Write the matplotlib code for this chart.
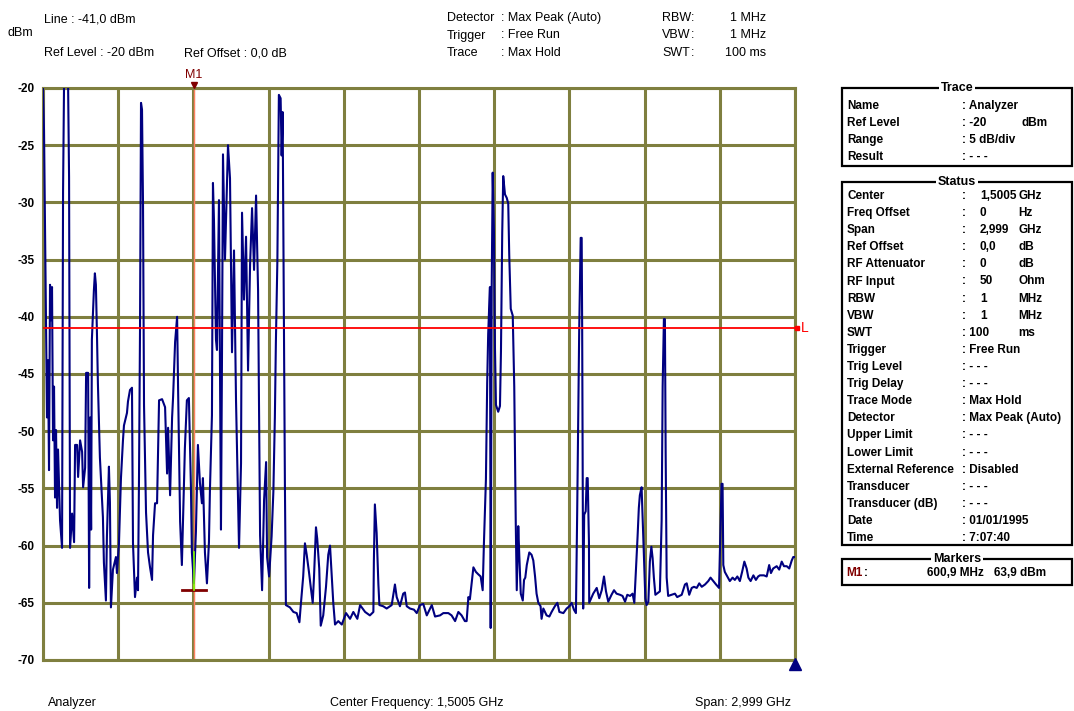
import numpy as np
import matplotlib.pyplot as plt
from matplotlib.patches import Rectangle

W, H = 1074, 711

# spectrum trace (MHz, dBm)
freq_mhz = [
    0, 4, 8, 12, 16, 20, 24, 28, 32, 36, 40, 44, 48, 52, 56, 60, 68, 76, 80, 84,
    92, 100, 104, 108, 116, 124, 128, 136, 140, 148, 156, 160, 168, 172, 180, 184, 188, 192, 195, 203,
    207, 211, 215, 219, 227, 239, 243, 251, 255, 263, 267, 271, 279, 291, 295, 303, 311, 319, 323, 335,
    339, 347, 355, 359, 367, 375, 379, 383, 387, 391, 395, 399, 403, 411, 419, 427, 435, 439, 447, 455,
    463, 475, 487, 495, 499, 507, 515, 519, 527, 535, 539, 547, 554, 566, 574, 582, 590, 594, 602, 610,
    618, 626, 634, 638, 646, 654, 662, 666, 674, 678, 682, 690, 694, 702, 710, 714, 718, 726, 738, 746,
    754, 762, 770, 782, 790, 794, 802, 810, 818, 826, 834, 842, 850, 858, 862, 866, 874, 882, 890, 894,
    902, 912, 919, 925, 929, 935, 941, 948, 952, 956, 959, 965, 969, 985, 999, 1012, 1023, 1028, 1038, 1045,
    1052, 1061, 1068, 1076, 1081, 1089, 1094, 1102, 1108, 1118, 1129, 1138, 1145, 1152, 1158, 1165, 1178, 1192, 1209, 1225,
    1238, 1254, 1265, 1285, 1304, 1318, 1320, 1324, 1331, 1338, 1342, 1357, 1371, 1391, 1404, 1411, 1424, 1437, 1444, 1451,
    1464, 1480, 1491, 1504, 1517, 1531, 1551, 1564, 1584, 1597, 1617, 1630, 1644, 1657, 1670, 1683, 1690, 1697, 1703, 1710,
    1717, 1727, 1736, 1746, 1754, 1759, 1767, 1772, 1776, 1783, 1786, 1790, 1794, 1799, 1803, 1807, 1816, 1823, 1827, 1832,
    1836, 1843, 1850, 1856, 1860, 1866, 1874, 1880, 1886, 1890, 1896, 1900, 1906, 1914, 1919, 1924, 1930, 1940, 1949, 1956,
    1963, 1969, 1976, 1985, 1989, 1996, 2009, 2020, 2029, 2042, 2052, 2060, 2076, 2089, 2100, 2109, 2118, 2126, 2131, 2139,
    2145, 2149, 2151, 2155, 2159, 2165, 2169, 2173, 2178, 2179, 2185, 2195, 2209, 2219, 2229, 2238, 2246, 2255, 2268, 2278,
    2288, 2302, 2312, 2322, 2331, 2342, 2352, 2359, 2364, 2372, 2377, 2381, 2388, 2392, 2397, 2403, 2408, 2415, 2421, 2427,
    2432, 2437, 2443, 2461, 2468, 2472, 2477, 2481, 2484, 2488, 2494, 2508, 2521, 2530, 2548, 2561, 2568, 2578, 2588, 2597,
    2608, 2618, 2628, 2641, 2654, 2663, 2674, 2685, 2697, 2703, 2707, 2711, 2714, 2720, 2730, 2740, 2751, 2760, 2770, 2780,
    2789, 2798, 2807, 2814, 2823, 2834, 2844, 2853, 2860, 2876, 2887, 2897, 2904, 2913, 2927, 2937, 2947, 2956, 2967, 2977,
    2987, 2993, 3000,
]
level_dbm = [
    -20.0, -23.7, -32.1, -41.2, -48.8, -43.8, -53.4, -37.2, -40.3, -37.4, -50.8, -46.1, -55.8, -49.9, -56.7, -51.6, -57.8, -60.2, -29.1, -19.5,
    -19.5, -19.5, -27.8, -60.2, -57.2, -59.7, -51.2, -51.2, -54.0, -50.8, -51.8, -54.9, -53.2, -44.9, -44.9, -63.7, -48.8, -58.6, -42.0, -37.7,
    -36.2, -37.2, -41.2, -45.8, -52.3, -57.5, -61.5, -64.8, -59.2, -53.1, -56.2, -65.4, -62.1, -61.0, -62.4, -59.8, -54.1, -50.8, -49.5, -48.4,
    -47.4, -46.4, -46.2, -59.8, -64.5, -62.8, -63.9, -54.0, -41.2, -21.3, -21.9, -30.2, -47.7, -57.1, -60.6, -61.9, -63.0, -59.1, -56.3, -56.3,
    -47.3, -47.2, -47.9, -53.7, -49.7, -55.6, -48.8, -47.0, -42.2, -40.0, -46.4, -57.9, -61.7, -51.5, -47.3, -47.1, -54.7, -60.6, -63.3, -58.8,
    -51.2, -54.5, -56.3, -54.1, -60.6, -63.3, -59.7, -55.1, -48.6, -28.3, -31.5, -42.0, -42.9, -29.8, -58.6, -43.6, -25.8, -35.0, -25.0, -27.9,
    -43.1, -34.2, -47.3, -60.2, -52.8, -30.9, -38.5, -33.0, -44.7, -35.5, -30.5, -35.9, -29.4, -37.7, -48.8, -59.1, -63.9, -56.0, -52.7, -61.0,
    -62.7, -59.2, -55.3, -48.8, -42.3, -35.1, -20.6, -20.9, -25.9, -22.1, -33.3, -54.5, -65.2, -65.4, -65.8, -65.9, -66.7, -65.3, -62.7, -59.8,
    -60.8, -62.3, -63.6, -65.0, -62.8, -58.4, -59.4, -62.0, -67.0, -66.1, -63.6, -60.8, -60.0, -62.7, -65.0, -66.9, -66.6, -66.9, -65.9, -66.4,
    -65.8, -66.4, -65.2, -65.8, -66.1, -65.8, -61.3, -56.4, -58.9, -63.4, -65.2, -65.3, -65.5, -65.2, -63.4, -64.5, -65.3, -64.2, -64.1, -65.3,
    -65.5, -65.6, -65.9, -65.2, -65.1, -66.1, -65.2, -66.2, -66.1, -65.9, -65.9, -66.1, -66.6, -65.8, -66.1, -66.6, -66.6, -64.5, -64.7, -63.3,
    -61.9, -62.3, -62.5, -62.7, -63.9, -59.8, -54.2, -45.8, -41.5, -37.4, -67.2, -37.4, -27.4, -32.6, -42.7, -47.7, -48.3, -47.8, -43.0, -32.7,
    -27.7, -29.3, -29.6, -30.1, -34.6, -39.3, -39.9, -46.1, -58.0, -63.9, -58.3, -60.8, -64.2, -64.8, -63.0, -62.8, -61.7, -60.6, -60.8, -61.3,
    -62.7, -64.2, -65.0, -65.3, -66.4, -65.5, -66.1, -66.2, -65.8, -65.3, -65.0, -65.8, -65.9, -65.5, -65.3, -65.0, -65.6, -65.9, -57.2, -41.3,
    -33.1, -33.1, -41.3, -65.5, -57.3, -57.0, -54.1, -54.1, -59.7, -65.0, -64.7, -64.2, -63.7, -64.6, -63.9, -62.7, -64.0, -64.9, -64.3, -63.9,
    -64.2, -64.3, -64.4, -64.9, -64.3, -64.4, -64.2, -65.0, -62.8, -59.2, -56.7, -55.6, -54.9, -57.5, -60.5, -64.6, -65.2, -64.9, -61.4, -60.1,
    -61.1, -62.8, -64.3, -64.0, -57.8, -46.1, -40.2, -40.2, -51.9, -62.8, -64.4, -64.3, -64.2, -64.5, -64.3, -63.4, -63.3, -64.3, -63.7, -63.6,
    -63.7, -63.3, -63.6, -63.4, -63.1, -62.8, -63.1, -63.4, -63.7, -58.1, -54.6, -54.6, -61.7, -62.3, -62.7, -63.1, -62.8, -63.0, -62.7, -63.1,
    -62.3, -61.4, -62.0, -62.8, -63.1, -62.6, -63.0, -62.7, -62.6, -62.6, -62.7, -61.7, -62.4, -62.0, -61.8, -62.1, -61.4, -61.8, -61.8, -62.0,
    -61.3, -61.0, -61.0,
]

span_mhz = 3000
ref_level = -20
range_db = 50
limit_dbm = -41.0
marker_mhz = 600.9
marker_dbm = -63.9
marker_trace_dbm = -60.6

trace_rows = [("Name", ": Analyzer", ""), ("Ref Level", ": -20", "dBm"),
              ("Range", ": 5 dB/div", ""), ("Result", ": - - -", "")]
status_rows = [
    ("Center", "1,5005", "GHz"), ("Freq Offset", "0", "Hz"), ("Span", "2,999", "GHz"),
    ("Ref Offset", "0,0", "dB"), ("RF Attenuator", "0", "dB"), ("RF Input", "50", "Ohm"),
    ("RBW", "1", "MHz"), ("VBW", "1", "MHz"), ("SWT", None, ": 100"),
    ("Trigger", None, ": Free Run"), ("Trig Level", None, ": - - -"),
    ("Trig Delay", None, ": - - -"), ("Trace Mode", None, ": Max Hold"),
    ("Detector", None, ": Max Peak (Auto)"), ("Upper Limit", None, ": - - -"),
    ("Lower Limit", None, ": - - -"), ("External Reference", None, ": Disabled"),
    ("Transducer", None, ": - - -"), ("Transducer (dB)", None, ": - - -"),
    ("Date", None, ": 01/01/1995"), ("Time", None, ": 7:07:40"),
]

plt.rcParams['font.family'] = ['Liberation Sans', 'DejaVu Sans']
plt.rcParams['axes.unicode_minus'] = False

def fx(x):
    return x / W

def fy(y):
    return 1 - y / H

fig = plt.figure(figsize=(W / 100, H / 100), dpi=100)
fig.patch.set_facecolor('white')
ax = fig.add_axes([fx(43), fy(660), 752 / W, 572 / H])

grid_c = '#7f7f3f'
ax.set_xlim(0, span_mhz)
ax.set_ylim(ref_level - range_db, ref_level)
ax.set_xticks(np.linspace(0, span_mhz, 11))
ax.set_yticks(np.arange(ref_level - range_db, ref_level + 1, 5))
ax.set_xticklabels([])
ax.tick_params(length=0, labelsize=8.5, pad=6)
for lbl in ax.get_yticklabels():
    lbl.set_fontweight('bold')
ax.set_axisbelow(True)
ax.grid(True, color=grid_c, lw=2.2)
for s in ax.spines.values():
    s.set_color(grid_c)
    s.set_linewidth(2.2)

# marker line, trace, limit line
ax.axvline(marker_mhz, color='#ff8060', lw=1.0, zorder=2)
ax.plot(freq_mhz, level_dbm, color='#000080', lw=1.5, zorder=3)
ax.axhline(limit_dbm, color='#ff0000', lw=1.3, zorder=4)
ax.plot([marker_mhz - 48, marker_mhz + 48], [marker_dbm, marker_dbm], color='#800000', lw=2, zorder=5)
ax.plot([marker_mhz, marker_mhz], [marker_trace_dbm, marker_dbm], color='#80ff00', lw=1.2, zorder=5)

ax.plot(marker_mhz, ref_level + 0.3, marker='v', color='#800000', ms=5, clip_on=False, zorder=6)
ax.text(marker_mhz, ref_level + 0.6, 'M1', color='#800000', fontsize=9, ha='center', va='bottom')
ax.plot(span_mhz + 8, limit_dbm, marker='s', color='#ff0000', ms=3.5, clip_on=False, zorder=6)
ax.text(span_mhz + 22, limit_dbm, 'L', color='#ff0000', fontsize=10, ha='left', va='center')
ax.plot(span_mhz, ref_level - range_db - 0.35, marker='^', color='#000080', ms=8, clip_on=False, zorder=6)

# header texts
fs = 9
fig.text(fx(8), fy(33), 'dBm', fontsize=fs, va='center')
fig.text(fx(44), fy(19), 'Line : -41,0 dBm', fontsize=fs, va='center')
fig.text(fx(44), fy(53), 'Ref Level : -20 dBm', fontsize=fs, va='center')
fig.text(fx(184), fy(53), 'Ref Offset : 0,0 dB', fontsize=fs, va='center')
for i, (k, v) in enumerate([('Detector', ': Max Peak (Auto)'), ('Trigger', ': Free Run'),
                            ('Trace', ': Max Hold')]):
    fig.text(fx(447), fy(18 + 17.5 * i), k, fontsize=fs, va='center')
    fig.text(fx(501), fy(18 + 17.5 * i), v, fontsize=fs, va='center')
for i, (k, v) in enumerate([('RBW', '1 MHz'), ('VBW', '1 MHz'), ('SWT', '100 ms')]):
    fig.text(fx(662), fy(18 + 17.5 * i), k, fontsize=fs, va='center')
    fig.text(fx(691), fy(18 + 17.5 * i), ':', fontsize=fs, va='center')
    fig.text(fx(766), fy(18 + 17.5 * i), v, fontsize=fs, va='center', ha='right')

# footer texts
fig.text(fx(48), fy(703), 'Analyzer', fontsize=fs, va='center')
fig.text(fx(330), fy(703), 'Center Frequency: 1,5005 GHz', fontsize=fs, va='center')
fig.text(fx(695), fy(703), 'Span: 2,999 GHz', fontsize=fs, va='center')

# right side panels
pfs = 8.5

def panel(y0, y1, title):
    fig.add_artist(Rectangle((fx(842), fy(y1)), 230 / W, (y1 - y0) / H,
                             transform=fig.transFigure, fill=False, ec='black', lw=1.6))
    fig.text(fx(957), fy(y0), title, ha='center', va='center', fontsize=pfs + 0.5, fontweight='bold',
             bbox=dict(fc='white', ec='none', pad=1.5))

panel(88, 166, 'Trace')
for i, (k, v, u) in enumerate(trace_rows):
    y = fy(106 + 17 * i)
    fig.text(fx(847), y, k, fontsize=pfs, fontweight='bold', va='center')
    fig.text(fx(962), y, v, fontsize=pfs, fontweight='bold', va='center')
    fig.text(fx(1022), y, u, fontsize=pfs, fontweight='bold', va='center')

panel(182, 545, 'Status')
for i, (k, num, rest) in enumerate(status_rows):
    y = fy(196 + 17.1 * i)
    fig.text(fx(847), y, k, fontsize=pfs, fontweight='bold', va='center')
    if num is None:
        fig.text(fx(962), y, rest, fontsize=pfs, fontweight='bold', va='center')
        if k == 'SWT':
            fig.text(fx(1018), y, 'ms', fontsize=pfs, fontweight='bold', va='center')
    else:
        fig.text(fx(962), y, ':', fontsize=pfs, fontweight='bold', va='center')
        fig.text(fx(980), y, num, fontsize=pfs, fontweight='bold', va='center')
        fig.text(fx(1018), y, rest, fontsize=pfs, fontweight='bold', va='center')

panel(559, 585, 'Markers')
fig.text(fx(846), fy(573), 'M1', color='#800000', fontsize=pfs, fontweight='bold', va='center')
fig.text(fx(864), fy(573), ':', fontsize=pfs, fontweight='bold', va='center')
fig.text(fx(927), fy(573), '600,9 MHz', fontsize=pfs, fontweight='bold', va='center')
fig.text(fx(994), fy(573), '63,9 dBm', fontsize=pfs, fontweight='bold', va='center')

fig.savefig('out.png', dpi=100)
